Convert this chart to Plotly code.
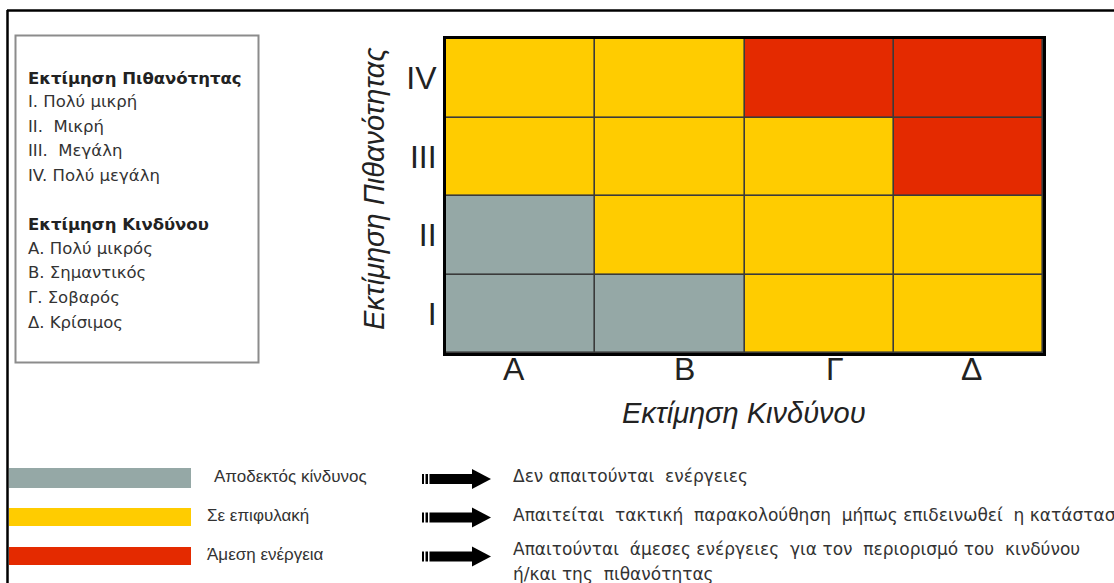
import plotly.graph_objects as go

# ---------------- data ----------------
risk_categories = ["Α", "Β", "Γ", "Δ"]            # x axis: Εκτίμηση Κινδύνου
prob_categories = ["I", "II", "III", "IV"]         # y axis: Εκτίμηση Πιθανότητας
# risk level per cell (0 = acceptable, 1 = alert, 2 = immediate action); rows I..IV
risk_level = [
    [0, 0, 1, 1],   # I
    [0, 1, 1, 1],   # II
    [1, 1, 1, 2],   # III
    [1, 1, 2, 2],   # IV
]
level_colors = ["#95A8A6", "#FFCC00", "#E42A00"]
level_labels = ["Αποδεκτός κίνδυνος", "Σε επιφυλακή", "Άμεση ενέργεια"]
level_actions = [
    ["Δεν απαιτούνται\u00a0 ενέργειες"],
    ["Απαιτείται\u00a0 τακτική\u00a0 παρακολούθηση\u00a0 μήπως επιδεινωθεί\u00a0 η κατάσταση"],
    ["Απαιτούνται\u00a0 άμεσες ενέργειες\u00a0 για τον\u00a0 περιορισμό του\u00a0 κινδύνου",
     "ή/και της\u00a0 πιθανότητας"],
]
prob_legend_title = "Εκτίμηση Πιθανότητας"
prob_legend_items = ["I. Πολύ μικρή", "II.\u00a0 Μικρή", "III.\u00a0 Μεγάλη", "IV. Πολύ μεγάλη"]
risk_legend_title = "Εκτίμηση Κινδύνου"
risk_legend_items = ["Α. Πολύ μικρός", "Β. Σημαντικός", "Γ. Σοβαρός", "Δ. Κρίσιμος"]

W, H = 1114, 583
FONT = "Liberation Sans, Arial, sans-serif"
WIDE = "DejaVu Sans, sans-serif"


def px(x):
    return x / W


def py(y):
    return 1 - y / H


n = len(level_colors)
colorscale = []
for i, c in enumerate(level_colors):
    colorscale.append([i / n, c])
    colorscale.append([(i + 1) / n, c])

fig = go.Figure()
fig.add_trace(go.Heatmap(
    x=risk_categories, y=prob_categories, z=risk_level,
    zmin=-0.5, zmax=n - 0.5, colorscale=colorscale, showscale=False,
    xgap=1.6, ygap=1.6, hoverinfo="skip",
))

shapes = []
annotations = []

# outer frame (top and left edges)
shapes.append(dict(type="line", xref="paper", yref="paper", x0=px(7), x1=px(1114), y0=py(10.5), y1=py(10.5),
                   line=dict(color="black", width=2.5)))
shapes.append(dict(type="line", xref="paper", yref="paper", x0=px(7.5), x1=px(7.5), y0=py(10), y1=py(583),
                   line=dict(color="black", width=2.5)))

# left explanation box
shapes.append(dict(type="rect", xref="paper", yref="paper", x0=px(15.5), x1=px(258.5), y0=py(35.5), y1=py(362.5),
                   line=dict(color="#8c8c8c", width=2)))


def add_block(title, items, y_title, y_items):
    annotations.append(dict(xref="paper", yref="paper", x=px(26), y=py(y_title), xanchor="left", yanchor="middle",
                            text="<b>" + title + "</b>", showarrow=False,
                            font=dict(family=WIDE, size=16.5, color="#222")))
    for it, yy in zip(items, y_items):
        annotations.append(dict(xref="paper", yref="paper", x=px(26), y=py(yy), xanchor="left", yanchor="middle",
                                text=it, showarrow=False, font=dict(family=WIDE, size=16.5, color="#333")))


add_block(prob_legend_title, prob_legend_items, 78, [102, 126, 151, 175])
add_block(risk_legend_title, risk_legend_items, 224, [248, 272, 297, 322])

# bottom colour legend
bar_rows = [(468, 488), (508, 526), (547, 565)]
label_x = [212, 205, 205]
text_rows = [[476], [515], [549, 574]]
for i, c in enumerate(level_colors):
    y0, y1 = bar_rows[i]
    shapes.append(dict(type="rect", xref="paper", yref="paper", x0=px(9), x1=px(191), y0=py(y0), y1=py(y1),
                       line=dict(width=0), fillcolor=c))
    yc = (y0 + y1) / 2
    annotations.append(dict(xref="paper", yref="paper", x=px(label_x[i]), y=py(yc - 2), xanchor="left",
                            yanchor="middle", text=level_labels[i], showarrow=False,
                            font=dict(family=FONT, size=17, color="#333")))
    # arrow
    ac = yc + 0.5 if i else yc + 1
    sh = 5
    for xa, xb in [(422, 424), (425.5, 428), (429.5, 473)]:
        shapes.append(dict(type="rect", xref="paper", yref="paper", x0=px(xa), x1=px(xb),
                           y0=py(ac - sh), y1=py(ac + sh), line=dict(width=0), fillcolor="black"))
    path = "M {} {} L {} {} L {} {} Z".format(px(472), py(ac - 10), px(491), py(ac), px(472), py(ac + 10))
    shapes.append(dict(type="path", xref="paper", yref="paper", path=path, line=dict(width=0), fillcolor="black"))
    for t, yy in zip(level_actions[i], text_rows[i]):
        annotations.append(dict(xref="paper", yref="paper", x=px(511), y=py(yy), xanchor="left", yanchor="middle",
                                text=t, showarrow=False, font=dict(family=WIDE, size=17, color="#333")))

# x category labels placed on the x axis scale, just under the grid
x_label_shift = [-7, 15, 16, 3]
for cat, sh in zip(risk_categories, x_label_shift):
    annotations.append(dict(xref="x", yref="paper", x=cat, y=py(368.5), xanchor="center", yanchor="middle",
                            xshift=sh, text=cat, showarrow=False, font=dict(family=FONT, size=32, color="#222")))

# axis titles
annotations.append(dict(xref="paper", yref="paper", x=px(744), y=py(413), xanchor="center", yanchor="middle",
                        text="<i>Εκτίμηση Κινδύνου</i>", showarrow=False,
                        font=dict(family=FONT, size=29, color="#222")))
annotations.append(dict(xref="paper", yref="paper", x=px(374), y=py(189), xanchor="center", yanchor="middle",
                        text="<i>Εκτίμηση Πιθανότητας</i>", textangle=-90, showarrow=False,
                        font=dict(family=FONT, size=29, color="#222")))

fig.update_layout(
    width=W, height=H, margin=dict(l=0, r=0, t=0, b=0),
    paper_bgcolor="white", plot_bgcolor="#3a3a3a",
    shapes=shapes, annotations=annotations, showlegend=False,
    xaxis=dict(domain=[px(446), px(1043)], type="category", showgrid=False, zeroline=False,
               showline=True, mirror=True, linecolor="black", linewidth=3, ticks="",
               showticklabels=False, fixedrange=True),
    yaxis=dict(domain=[py(353), py(39)], type="category", showgrid=False, zeroline=False,
               showline=True, mirror=True, linecolor="black", linewidth=3, ticks="",
               tickfont=dict(family=FONT, size=32, color="#222"), fixedrange=True),
)

fig.write_html("out.html", config={"displayModeBar": False},
               post_script="document.body.style.margin='0';document.body.style.overflow='hidden';")
